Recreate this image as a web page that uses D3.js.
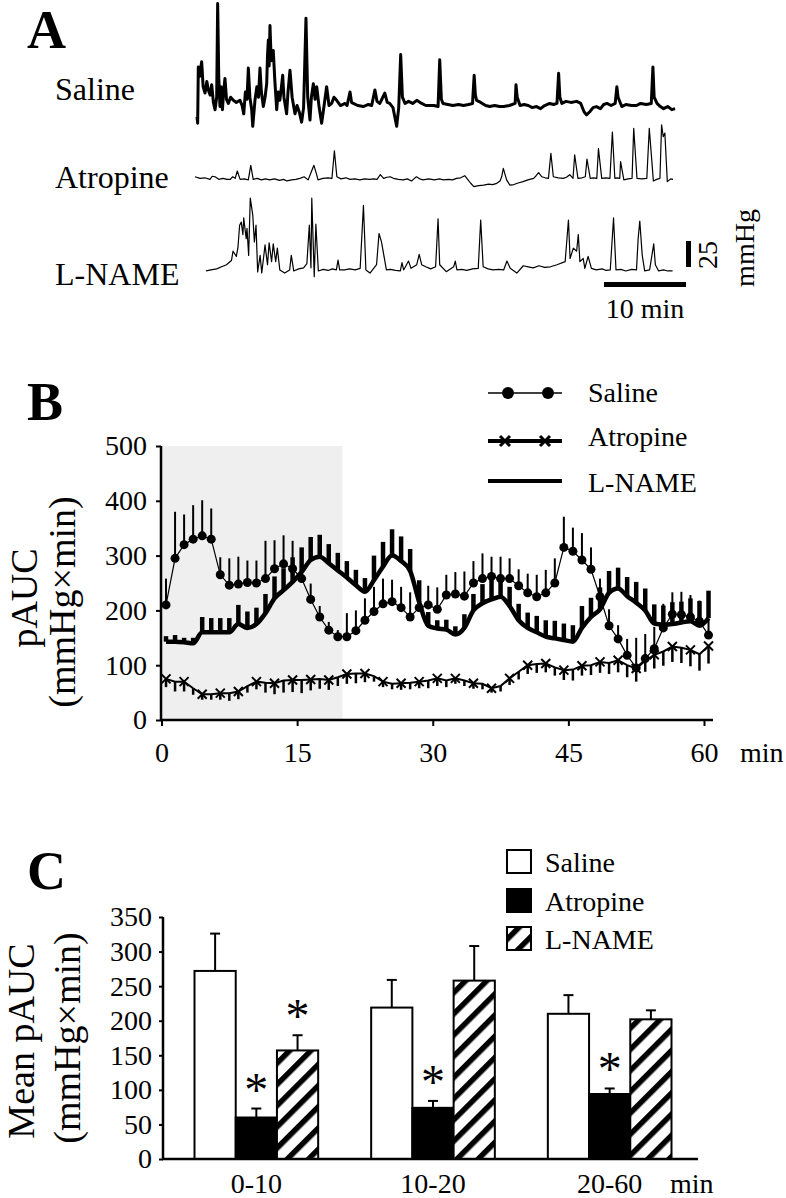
<!DOCTYPE html>
<html><head><meta charset="utf-8">
<script src="https://cdn.jsdelivr.net/npm/d3@7"></script>
<style>
body{margin:0;background:#fff}
svg{display:block}
text{font-family:"Liberation Serif","Times New Roman",serif;fill:#000}
</style>
</head><body>
<svg id="c" width="786" height="1198"></svg>
<script>
// ---------- Panel A: raw pressure traces [time (min), pressure (mmHg above baseline)] ----------
const salineTrace = [[0,1],[0.08,-5],[0.16,49],[0.3,40],[0.57,54],[0.75,30],[0.98,24],[1.2,35],[1.38,27],[1.6,22],[1.79,32],[2.0,15],[2.2,8],[2.4,20],[2.52,110],[2.65,40],[2.8,11],[2.95,30],[3.1,8],[3.25,25],[3.41,38],[3.6,18],[3.82,14],[4.1,20],[4.43,17],[4.8,15],[5.24,17],[5.5,12],[5.7,4],[5.9,25],[6.1,18],[6.26,48],[6.45,20],[6.67,8],[6.8,-8],[7.07,17],[7.3,30],[7.5,20],[7.68,48],[7.85,25],[8.09,11],[8.3,20],[8.5,33],[8.6,60],[8.7,75],[8.8,50],[8.9,89],[9.05,55],[9.3,65],[9.5,35],[9.72,8],[9.9,25],[10.1,17],[10.3,30],[10.45,41],[10.6,20],[10.93,4],[11.1,25],[11.34,46],[11.6,20],[11.95,4],[12.2,12],[12.5,5],[12.76,-4],[13.0,10],[13.29,96],[13.5,20],[13.78,-2],[13.95,20],[14.19,33],[14.4,18],[14.6,30],[14.9,10],[15.2,-5],[15.5,12],[15.81,30],[16.1,12],[16.42,14],[16.7,20],[17.03,17],[17.5,12],[18.05,14],[18.3,12],[18.66,25],[18.85,15],[19.07,14],[19.6,12],[20.28,11],[20.9,13],[21.3,12],[21.7,27],[21.95,16],[22.3,14],[22.6,19],[22.9,24],[23.2,15],[23.5,14],[23.9,10],[24.35,-8],[24.6,10],[24.84,61],[25.05,20],[25.37,14],[25.8,16],[26.3,14],[26.8,17],[27.4,14],[27.9,12],[28.4,12],[28.9,12],[29.4,11],[29.6,56],[29.8,18],[30.0,14],[30.6,13],[31.2,12],[31.9,13],[32.5,12],[33.1,13],[33.6,14],[33.8,41],[33.95,22],[34.1,17],[34.6,15],[35.2,12],[35.7,11],[36.3,12],[36.9,11],[37.4,11],[38.1,12],[38.8,14],[38.9,32],[39.05,20],[39.4,12],[39.9,13],[40.4,12],[40.9,10],[41.4,11],[41.9,9],[42.4,12],[43.0,14],[43.5,13],[43.9,14],[44.1,43],[44.25,20],[44.5,14],[45.0,16],[45.6,15],[46.3,16],[46.8,14],[47.2,6],[47.5,3],[47.9,6],[48.3,10],[48.7,11],[49.2,9],[49.6,13],[50.0,14],[50.5,12],[51,14],[51.2,30],[51.35,20],[51.8,11],[52.3,13],[53.0,12],[53.6,12],[54.1,14],[54.8,13],[55.4,14],[55.6,49],[55.75,20],[56.1,14],[56.5,11],[56.9,9],[57.4,11],[57.9,8],[58.3,9]];
const atropineTrace = [[0,6],[0.6,4.5],[1.2,5],[1.83,3.5],[2.1,6.5],[2.44,6],[2.9,3.5],[3.4,4.5],[3.9,3.5],[4.3,3.5],[4.6,6],[4.9,4.5],[5.16,11.5],[5.5,3.5],[6.0,4],[6.5,3],[6.8,17],[7.1,3.5],[7.6,4.5],[8.1,3],[8.6,4],[9.1,3],[9.7,4],[10.3,2.5],[10.8,3.5],[11.2,2],[11.8,3],[12.3,3.5],[12.8,4.5],[13.3,6],[13.8,3],[14.2,11],[14.5,17],[14.8,9],[15.0,3],[15.6,4.5],[16.2,5],[16.7,4.5],[17.0,31],[17.3,6],[17.8,4],[18.4,5],[18.9,3.5],[19.5,4],[20.1,3],[20.7,4],[21.3,3.5],[21.8,4],[22.2,3.5],[22.6,8],[23,4.5],[23.4,5.5],[23.8,6],[24.2,4.5],[24.8,3.5],[25.4,3],[25.9,4],[26.4,2],[26.7,4],[27,6],[27.4,4],[27.8,3],[28.5,4],[29.2,3],[29.8,4],[30.3,3],[30.9,3.5],[31.4,3],[31.9,4.5],[32.4,5],[32.9,7],[33.2,4],[33.6,0],[34,-3.5],[34.6,-2.5],[35.2,-2],[35.8,-1],[36.3,-1.5],[36.8,-0.3],[37.2,2],[37.4,6],[37.6,14],[38,3],[38.4,-2],[38.9,-1.5],[39.4,0],[40,1.3],[40.6,3],[41.3,4.5],[41.6,7],[41.9,10],[42.3,6],[42.7,5],[43.1,4.5],[43.4,28.5],[43.7,6],[44.3,5],[44.9,4.5],[45.3,5.5],[45.7,8],[46.1,4.5],[46.3,27],[46.7,4.5],[47.2,5],[47.6,6],[47.8,23],[48.2,4.5],[48.6,5],[49.0,4.5],[49.2,33],[49.6,4.5],[50.1,5],[50.6,4.5],[50.9,49],[51.2,4.5],[51.5,5],[51.8,4.5],[51.9,20.5],[52.3,3],[52.8,4],[53.3,4.5],[53.5,52.5],[53.9,4.5],[54.5,4],[55.1,4.5],[55.4,52.5],[55.9,2],[56.3,3.5],[56.7,4.5],[56.9,56],[57.1,44.5],[57.3,48],[57.6,1.3],[58.0,4],[58.3,3.5]];
const lnameTrace = [[0,1],[0.6,2],[1.3,3],[1.9,5],[2.5,7],[3.1,11],[3.3,20],[3.7,15],[3.9,24],[4.1,45],[4.3,48],[4.5,36],[4.6,52],[4.9,32],[5.0,42],[5.2,16],[5.4,71],[5.7,55],[5.9,29],[6.1,45],[6.3,0],[6.6,16],[6.8,-1],[7.2,26],[7.5,7],[7.7,28],[8.0,10],[8.2,27],[8.5,10],[8.7,23],[9.0,2],[9.6,-1],[10.2,2],[10.4,16],[10.7,1],[11.3,3],[11.9,4],[12.3,8],[12.6,45],[12.8,4],[12.9,71],[13.2,-4.5],[13.4,46],[13.7,1],[14.3,2.5],[14.9,1.5],[15.4,3],[15.9,2],[16.1,11.5],[16.3,2],[16.9,2],[17.5,3],[18.2,2],[18.8,3.5],[19.2,64],[19.5,2],[20,-1],[20.8,7],[21.1,37],[21.4,29],[21.6,20],[22.0,2],[22.5,2.5],[23.1,1.5],[23.7,1],[23.9,9],[24.1,2],[24.7,10.5],[25,3.5],[25.7,7],[26,17],[26.3,7],[26.8,5],[27.4,3],[28.0,5],[28.3,51],[28.5,7],[29.3,0.3],[30.2,5],[30.4,10.5],[30.6,2],[31.2,2.5],[31.8,1.5],[32.5,3],[33.2,3.5],[33.5,50],[33.8,5],[34.4,3],[35,2],[35.7,2.5],[36.3,2],[36.7,10.5],[37.1,3.5],[37.9,-1],[38.7,6],[39.3,5],[39.9,4],[40.6,6],[41.3,4.5],[42,5],[42.8,7],[43.8,10],[44.2,50],[44.4,13],[44.8,23],[45.2,20],[45.4,36],[45.6,10],[46,13],[46.2,3.5],[46.6,15],[47,3.5],[47.6,2],[48.3,3],[48.8,1.5],[49.3,2],[49.7,52],[50,2],[50.6,2.5],[51.2,1],[51.9,2.5],[52.5,2],[52.7,32],[52.9,49],[53.2,16],[53.5,1],[54.1,2],[54.6,27],[54.8,7],[55.2,1],[55.8,2],[56.3,1],[56.9,1]];
const traceNames = ["Saline","Atropine","L-NAME"];

// ---------- Panel B: pAUC time course ----------
const timeMin = [0.5,1.5,2.5,3.5,4.5,5.5,6.5,7.5,8.5,9.5,10.5,11.5,12.5,13.5,14.5,15.5,16.5,17.5,18.5,19.5,20.5,21.5,22.5,23.5,24.5,25.5,26.5,27.5,28.5,29.5,30.5,31.5,32.5,33.5,34.5,35.5,36.5,37.5,38.5,39.5,40.5,41.5,42.5,43.5,44.5,45.5,46.5,47.5,48.5,49.5,50.5,51.5,52.5,53.5,54.5,55.5,56.5,57.5,58.5,59.5,60.5];
const salineMean = [210,295,320,330,336,330,265,246,248,251,250,258,276,285,276,258,220,188,164,152,152,163,182,198,212,216,205,188,205,210,202,228,230,226,250,258,262,258,258,245,232,225,232,250,315,308,292,275,225,172,148,118,95,112,130,168,193,192,188,180,155];
const salineErr = [48,85,55,62,65,56,32,49,50,40,41,69,52,52,51,45,29,20,15,12,43,37,40,45,46,40,38,45,30,35,40,37,40,45,40,46,36,40,37,30,35,40,42,45,56,43,49,40,33,30,25,30,55,45,40,44,40,42,40,38,30];
const atropineMean = [75,70,70,58,47,47,49,49,52,62,70,68,67,72,73,73,74,75,73,78,84,85,85,80,70,66,67,68,70,72,76,72,76,72,67,66,58,62,76,88,100,102,103,96,91,92,99,100,106,104,109,100,94,108,119,125,134,132,128,120,135];
const atropineErr = [15,18,18,12,10,10,12,14,14,12,14,18,20,22,22,24,20,18,18,16,18,18,16,10,10,10,12,12,12,14,14,12,10,10,10,10,8,10,12,14,16,16,16,15,18,20,18,18,20,20,22,22,24,20,25,26,28,28,30,30,32];
const lnameMean = [143,143,142,140,160,160,160,160,175,168,175,195,222,237,252,270,292,298,286,273,260,246,234,255,280,300,290,272,215,172,167,165,156,168,200,213,220,225,208,182,168,160,152,149,146,143,168,188,202,232,240,226,214,200,176,174,175,178,180,172,186];
const lnameErr = [10,12,8,10,28,26,26,26,35,30,30,35,40,40,45,45,42,40,35,32,30,28,25,45,45,48,45,40,40,25,15,18,15,25,30,35,40,40,35,30,28,30,30,32,30,30,40,35,40,40,38,35,38,40,35,35,40,38,42,45,50];
const xTicksB = [0,15,30,45,60];
const yTicksB = [0,100,200,300,400,500];
const shadedB = [0,20];

// ---------- Panel C: mean pAUC by period ----------
const periods = ["0-10","10-20","20-60"];
const seriesC = ["Saline","Atropine","L-NAME"];
const salineBar = [272,219,210];
const salineBarErr = [54,40,27];
const atropineBar = [60,74,94];
const atropineBarErr = [13,10,8];
const lnameBar = [157,258,202];
const lnameBarErr = [22,50,13];
const starsC = [["0-10","Atropine"],["0-10","L-NAME"],["10-20","Atropine"],["20-60","Atropine"]];
const yTicksC = [0,50,100,150,200,250,300,350];

const svg = d3.select("#c");
svg.append("rect").attr("width",786).attr("height",1198).attr("fill","#fff");
const defs = svg.append("defs");
const pat = defs.append("pattern").attr("id","hatch").attr("patternUnits","userSpaceOnUse")
  .attr("width",15).attr("height",15).attr("patternTransform","rotate(45)");
pat.append("rect").attr("width",15).attr("height",15).attr("fill","#fff");
pat.append("rect").attr("width",5.5).attr("height",15).attr("fill","#000");

function label(t, x, y, size, opts={}) {
  const e = svg.append("text").attr("x",x).attr("y",y).attr("font-size",size).text(t);
  if (opts.bold) e.attr("font-weight","bold");
  if (opts.anchor) e.attr("text-anchor",opts.anchor);
  return e;
}
function vlabel(t, cx, cy, size) {
  svg.append("text").attr("transform",`translate(${cx},${cy}) rotate(-90)`)
    .attr("text-anchor","middle").attr("dy","0.35em").attr("font-size",size).text(t);
}

// ================= Panel A =================
label("A", 27, 48, 54, {bold:true});
const xT = d3.scaleLinear().domain([0,10]).range([0,82]);
const yT = d3.scaleLinear().domain([0,25]).range([0,-26]);
const traceLine = d3.line().x(d=>xT(d[0])).y(d=>yT(d[1]));
const traces = [
  {name:traceNames[0], data:salineTrace, x:197, y:118, w:3, ly:100},
  {name:traceNames[1], data:atropineTrace, x:195, y:183, w:1.2, ly:188},
  {name:traceNames[2], data:lnameTrace, x:206, y:272, w:1.2, ly:285}
];
traces.forEach(tr=>{
  svg.append("path").attr("transform",`translate(${tr.x},${tr.y})`)
    .attr("d",traceLine(tr.data)).attr("fill","none").attr("stroke","#000")
    .attr("stroke-width",tr.w).attr("stroke-linejoin","round");
  label(tr.name, 55, tr.ly, 32);
});
// scale bars
svg.append("rect").attr("x",604).attr("y",282).attr("width",xT(10)).attr("height",5).attr("fill","#000");
svg.append("rect").attr("x",686).attr("y",267+yT(25)).attr("width",5).attr("height",-yT(25)).attr("fill","#000");
vlabel("25", 707, 255, 28);
vlabel("mmHg", 744, 248, 28);
label("10 min", 645, 318, 28, {anchor:"middle"});

// ================= Panel B =================
label("B", 27, 420, 54, {bold:true});
const xB = d3.scaleLinear().domain([0,60]).range([161.5,704]);
const yB = d3.scaleLinear().domain([0,500]).range([720,446]);
svg.append("rect").attr("x",xB(shadedB[0])).attr("y",yB(500)).attr("width",xB(shadedB[1])-xB(shadedB[0]))
  .attr("height",yB(0)-yB(500)).attr("fill","#efefef");

const gyB = svg.append("g").attr("transform","translate(161,0)")
  .call(d3.axisLeft(yB).tickValues(yTicksB).tickSize(5).tickSizeOuter(0).tickPadding(9));
const gxB = svg.append("g").attr("transform","translate(0,720)")
  .call(d3.axisBottom(xB).tickValues(xTicksB).tickSize(6).tickSizeOuter(0).tickPadding(16));
[gyB,gxB].forEach(g=>{
  g.selectAll("text").attr("font-size",28).attr("font-family",'"Liberation Serif",serif');
  g.selectAll("line").attr("stroke","#000").attr("stroke-width",2);
  g.select(".domain").remove();
});
svg.append("line").attr("x1",161).attr("x2",161).attr("y1",446).attr("y2",721).attr("stroke","#000").attr("stroke-width",2.5);
svg.append("line").attr("x1",160).attr("x2",713).attr("y1",720).attr("y2",720).attr("stroke","#000").attr("stroke-width",2.5);
label("min", 740, 762, 28);
vlabel("pAUC", 24, 598, 38);
vlabel("(mmHg×min)", 62, 602, 38);

const idx = d3.range(timeMin.length);
// error bars
const eb = svg.append("g");
eb.selectAll(".es").data(idx).join("line")
  .attr("x1",i=>xB(timeMin[i])).attr("x2",i=>xB(timeMin[i]))
  .attr("y1",i=>yB(salineMean[i])).attr("y2",i=>yB(salineMean[i]+salineErr[i]))
  .attr("stroke","#000").attr("stroke-width",2);
eb.selectAll(".el").data(idx).join("line")
  .attr("x1",i=>xB(timeMin[i])).attr("x2",i=>xB(timeMin[i]))
  .attr("y1",i=>yB(lnameMean[i])).attr("y2",i=>yB(lnameMean[i]+lnameErr[i]))
  .attr("stroke","#000").attr("stroke-width",4.5);
eb.selectAll(".ea").data(idx).join("line")
  .attr("x1",i=>xB(timeMin[i])).attr("x2",i=>xB(timeMin[i]))
  .attr("y1",i=>yB(atropineMean[i])).attr("y2",i=>yB(atropineMean[i]-atropineErr[i]))
  .attr("stroke","#000").attr("stroke-width",2.5);

const lineOf = arr => d3.line().x(i=>xB(timeMin[i])).y(i=>yB(arr[i]));
svg.append("path").attr("d",lineOf(lnameMean).curve(d3.curveMonotoneX)(idx)).attr("fill","none")
  .attr("stroke","#000").attr("stroke-width",4.5).attr("stroke-linejoin","round");
svg.append("path").attr("d",lineOf(atropineMean)(idx)).attr("fill","none")
  .attr("stroke","#000").attr("stroke-width",2);
svg.append("path").attr("d",lineOf(salineMean)(idx)).attr("fill","none")
  .attr("stroke","#000").attr("stroke-width",1.2);
svg.append("g").selectAll("circle").data(idx).join("circle")
  .attr("cx",i=>xB(timeMin[i])).attr("cy",i=>yB(salineMean[i])).attr("r",4.5).attr("fill","#000");
function cross(g, x, y, s, w) {
  g.append("path").attr("d",`M${x-s},${y-s}L${x+s},${y+s}M${x-s},${y+s}L${x+s},${y-s}`)
    .attr("stroke","#000").attr("stroke-width",w).attr("fill","none");
}
const cg = svg.append("g");
idx.filter(i=>i%2===0).forEach(i=>cross(cg, xB(timeMin[i]), yB(atropineMean[i]), 4.5, 2));

// legend B
const lg = svg.append("g");
lg.append("line").attr("x1",488).attr("x2",562).attr("y1",393).attr("y2",393).attr("stroke","#000").attr("stroke-width",1.5);
[508,548].forEach(x=>lg.append("circle").attr("cx",x).attr("cy",393).attr("r",6).attr("fill","#000"));
lg.append("line").attr("x1",488).attr("x2",562).attr("y1",441).attr("y2",441).attr("stroke","#000").attr("stroke-width",4);
[505,545].forEach(x=>cross(lg, x, 441, 5, 3));
lg.append("line").attr("x1",488).attr("x2",562).attr("y1",481).attr("y2",481).attr("stroke","#000").attr("stroke-width",4);
label(traceNames[0], 588, 402, 28);
label(traceNames[1], 588, 446, 28);
label(traceNames[2], 588, 492, 28);

// ================= Panel C =================
label("C", 27, 889, 54, {bold:true});
const xC = d3.scaleBand().domain(periods).range([168,698]).paddingInner(0.3).paddingOuter(0.15);
const xS = d3.scaleBand().domain(seriesC).range([0,xC.bandwidth()]);
const yC = d3.scaleLinear().domain([0,350]).range([1159,917]);
const gyC = svg.append("g").attr("transform","translate(163,0)")
  .call(d3.axisLeft(yC).tickValues(yTicksC).tickSize(4).tickSizeOuter(0).tickPadding(7));
gyC.selectAll("text").attr("font-size",28).attr("font-family",'"Liberation Serif",serif');
gyC.selectAll("line").attr("stroke","#000").attr("stroke-width",2);
gyC.select(".domain").remove();
vlabel("Mean pAUC", 21, 1041, 38);
vlabel("(mmHg×min)", 67, 1038, 38);

const barData = [];
periods.forEach((p,gi)=>{
  barData.push({p, s:"Saline", v:salineBar[gi], e:salineBarErr[gi], fill:"#fff"});
  barData.push({p, s:"Atropine", v:atropineBar[gi], e:atropineBarErr[gi], fill:"#000"});
  barData.push({p, s:"L-NAME", v:lnameBar[gi], e:lnameBarErr[gi], fill:"url(#hatch)"});
});
const bx = d => xC(d.p)+xS(d.s);
const bw = xS.bandwidth();
svg.append("g").selectAll("g").data(barData).join("g").each(function(d){
  const g = d3.select(this), cx = bx(d)+bw/2;
  g.append("line").attr("x1",cx).attr("x2",cx).attr("y1",yC(d.v)).attr("y2",yC(d.v+d.e)).attr("stroke","#000").attr("stroke-width",2);
  g.append("line").attr("x1",cx-5).attr("x2",cx+5).attr("y1",yC(d.v+d.e)).attr("y2",yC(d.v+d.e)).attr("stroke","#000").attr("stroke-width",2);
});
svg.append("g").selectAll("rect").data(barData).join("rect")
  .attr("x",bx).attr("width",bw).attr("y",d=>yC(d.v)).attr("height",d=>yC(0)-yC(d.v))
  .attr("fill",d=>d.fill).attr("stroke","#000").attr("stroke-width",2);
starsC.forEach(([p,s])=>{
  const d = barData.find(b=>b.p===p&&b.s===s);
  svg.append("text").attr("x",bx(d)+bw/2).attr("y",yC(d.v+d.e)-3).attr("text-anchor","middle")
    .attr("font-size",48).text("*");
});
svg.append("line").attr("x1",163).attr("x2",163).attr("y1",917).attr("y2",1160).attr("stroke","#000").attr("stroke-width",2.5);
svg.append("line").attr("x1",162).attr("x2",698).attr("y1",1159).attr("y2",1159).attr("stroke","#000").attr("stroke-width",2.5);
periods.forEach(p=>label(p, xC(p)+xC.bandwidth()/2, 1193, 28, {anchor:"middle"}));
label("min", 670, 1193, 28);
const legC = [{s:"Saline",fill:"#fff",y:850},{s:"Atropine",fill:"#000",y:889},{s:"L-NAME",fill:"url(#hatch)",y:927}];
legC.forEach(l=>{
  svg.append("rect").attr("x",507).attr("y",l.y).attr("width",24).attr("height",23)
    .attr("fill",l.fill).attr("stroke","#000").attr("stroke-width",2);
  label(l.s, 545, l.y+22, 28);
});
</script>
</body></html>
